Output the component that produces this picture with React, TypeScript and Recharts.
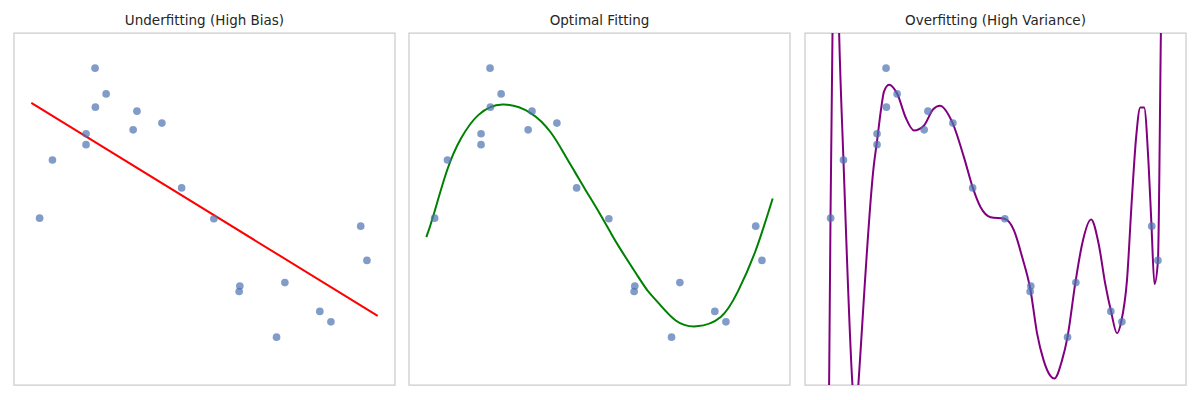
import { ComposedChart, Line, ReferenceArea, Scatter, XAxis, YAxis, ZAxis } from "recharts";

// noisy samples, shared by all three panels
const sampleX = [
  0.024, 0.061, 0.158, 0.158, 0.184, 0.185, 0.216, 0.294, 0.305, 0.377,
  0.434, 0.527, 0.602, 0.6, 0.708, 0.732, 0.833, 0.865, 0.951, 0.969,
];
const sampleY = [
  -0.078, 0.418, 0.641, 0.548, 1.2, 0.868, 0.981, 0.675, 0.834, 0.732,
  0.18, -0.083, -0.656, -0.703, -1.092, -0.627, -0.873, -0.962, -0.146, -0.438,
];

// degree 1 fit
const underX = [0, 1];
const underY = [0.905, -0.911];

// degree 3 fit
const optimalX = [
  0, 0.02, 0.06, 0.1, 0.15, 0.22, 0.3, 0.36, 0.4, 0.43, 0.46, 0.49, 0.53, 0.56, 0.61, 0.64, 0.67, 0.72, 0.78,
  0.85, 0.9, 0.95, 1,
];
const optimalY = [
  -0.24, -0.06, 0.33, 0.6, 0.8, 0.89, 0.82, 0.65, 0.46, 0.31, 0.16, 0.015, -0.19, -0.34, -0.57, -0.7, -0.8,
  -0.95, -1.0, -0.92, -0.7, -0.36, 0.09,
];

// high degree fit
const overX = [
  0, 0.0196, 0.0236, 0.0294, 0.039, 0.0485, 0.061, 0.087, 0.096, 0.104, 0.149, 0.158, 0.17, 0.178, 0.1925,
  0.2166, 0.2406, 0.2646, 0.293, 0.32, 0.3395, 0.375, 0.409, 0.4346, 0.457, 0.486, 0.526, 0.553, 0.577,
  0.601, 0.62, 0.639, 0.658, 0.67, 0.692, 0.708, 0.7305, 0.75, 0.776, 0.798, 0.817, 0.8334, 0.851, 0.863,
  0.8795, 0.894, 0.906, 0.918, 0.929, 0.942, 0.9505, 0.959, 0.969, 0.9775, 1,
];
const overY = [
  -6, -1.5, -0.08, 1.5, 2.8, 1.5, 0.42, -1.5, -1.85, -1.5, 0.38, 0.58, 0.86, 1.0, 1.06,
  0.98, 0.78, 0.67, 0.71, 0.85, 0.88, 0.74, 0.44, 0.18, 0.015, -0.07, -0.083, -0.18, -0.41,
  -0.69, -1.06, -1.29, -1.42, -1.445, -1.29, -1.09, -0.63, -0.3, -0.09, -0.3, -0.64, -0.87, -1.06, -0.96,
  -0.61, 0.1, 0.61, 0.865, 0.865, 0.38, -0.15, -0.64, -0.44, 1.5, 6,
];

const titles = ["Underfitting (High Bias)", "Optimal Fitting", "Overfitting (High Variance)"];
const fitColors = ["red", "green", "purple"];
const curveTypes = ["linear", "natural", "monotone"] as const;

const zip = (xs: number[], ys: number[]) => xs.map((x, i) => ({ x, y: ys[i] }));

const samples = zip(sampleX, sampleY);
const fits = [zip(underX, underY), zip(optimalX, optimalY), zip(overX, overY)];
const lefts = [0, 395, 791];

const X_DOMAIN: [number, number] = [-0.05, 1.05];
const Y_DOMAIN: [number, number] = [-1.5, 1.5];

function Panel({ index }: { index: number }) {
  return (
    <div style={{ position: "absolute", left: lefts[index], top: 0, width: 400, height: 400 }}>
      <div
        style={{
          position: "absolute",
          left: 14,
          width: 381,
          top: 11,
          textAlign: "center",
          fontSize: 13.5,
          lineHeight: "18px",
          color: "#262626",
        }}
      >
        {titles[index]}
      </div>
      <ComposedChart width={400} height={400} margin={{ top: 33, right: 5, bottom: 15, left: 14 }}>
        <XAxis type="number" dataKey="x" domain={X_DOMAIN} allowDataOverflow hide />
        <YAxis type="number" dataKey="y" domain={Y_DOMAIN} allowDataOverflow hide />
        <ZAxis range={[46, 46]} />
        <ReferenceArea
          x1={X_DOMAIN[0]}
          x2={X_DOMAIN[1]}
          y1={Y_DOMAIN[0]}
          y2={Y_DOMAIN[1]}
          fill="none"
          stroke="#cccccc"
          strokeWidth={1.25}
          ifOverflow="visible"
        />
        <Scatter data={samples} fill="#4c72b0" fillOpacity={0.7} isAnimationActive={false} />
        <Line
          data={fits[index]}
          dataKey="y"
          type={curveTypes[index]}
          stroke={fitColors[index]}
          strokeWidth={2}
          dot={false}
          activeDot={false}
          isAnimationActive={false}
        />
      </ComposedChart>
    </div>
  );
}

export default function App() {
  return (
    <div
      style={{
        position: "absolute",
        left: 0,
        top: 0,
        width: 1200,
        height: 400,
        background: "#ffffff",
        fontFamily: "'DejaVu Sans', sans-serif",
      }}
    >
      {titles.map((_, i) => (
        <Panel key={i} index={i} />
      ))}
    </div>
  );
}
